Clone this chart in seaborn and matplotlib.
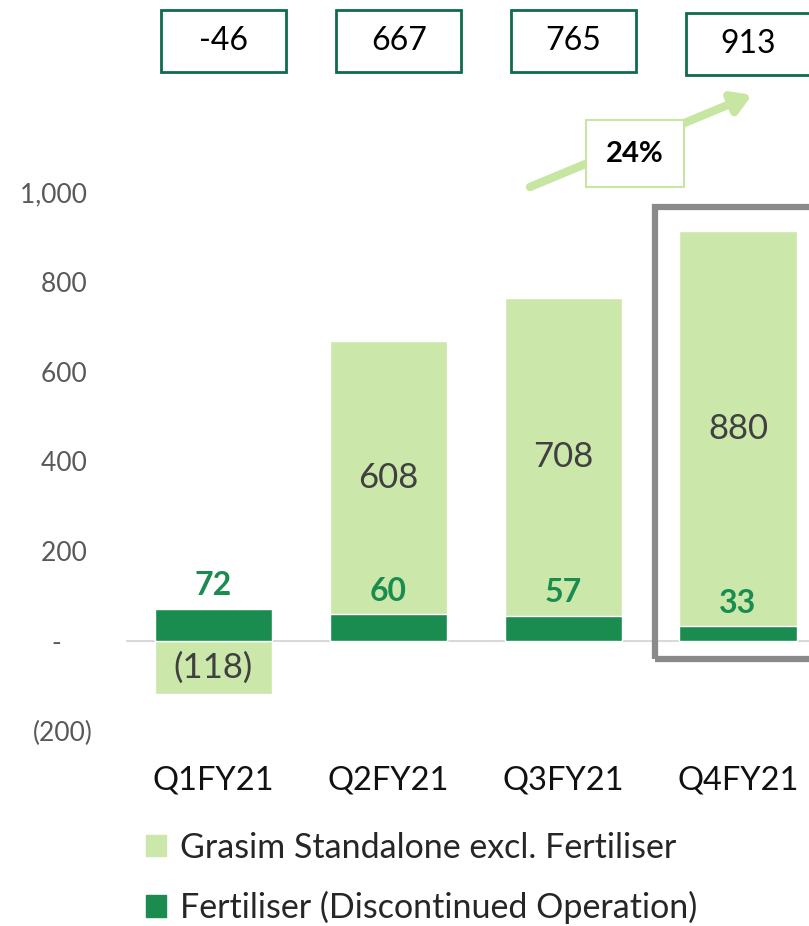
import numpy as np
import pandas as pd
import matplotlib
matplotlib.use("Agg")
import matplotlib.pyplot as plt
from matplotlib.patches import Rectangle, Patch
import seaborn as sns

quarters = ["Q1FY21", "Q2FY21", "Q3FY21", "Q4FY21"]
grasim = [-118, 608, 708, 880]
fertiliser = [72, 60, 57, 33]
totals = [-46, 667, 765, 913]
growth_label = "24%"
ytick_vals = [-200, 0, 200, 400, 600, 800, 1000]
ytick_labels = ["(200)", "-\u2007\u2007", "200\u2008", "400\u2008", "600\u2008", "800\u2008", "1,000\u2008"]

light = "#cbe7a9"
dark = "#1b8c50"
box_edge = "#0e6b4f"

sns.set_theme(style="white")
plt.rcParams["font.family"] = ["Lato", "DejaVu Sans"]

# light bar stacked on top of the dark one when positive
light_top = [g + f if g > 0 else g for g, f in zip(grasim, fertiliser)]
df = pd.DataFrame({"quarter": quarters, "light_top": light_top, "fert": fertiliser})

fig = plt.figure(figsize=(8.09, 9.26), dpi=100)
ax = fig.add_axes([0.1557, 0.2106, 0.8443, 0.5821])

sns.barplot(data=df, x="quarter", y="light_top", color=light, width=0.67,
            saturation=1, ax=ax, zorder=2)
sns.barplot(data=df, x="quarter", y="fert", color=dark, width=0.67,
            saturation=1, ax=ax, zorder=3)

ax.set_xlim(-0.5, 3.406)
ax.set_ylim(-200, 1000)
ax.axhline(0, color="#d9d9d9", lw=1.5, zorder=1)
sns.despine(ax=ax, left=True, bottom=True)
ax.set_xlabel("")
ax.set_ylabel("")
ax.set_yticks(ytick_vals)
ax.set_yticklabels(ytick_labels, fontsize=19, color="#595959")
ax.tick_params(axis="y", length=0, pad=24)
ax.tick_params(axis="x", length=0, pad=25, labelsize=23.5, labelcolor="#111111")

# segment labels
for i, (g, f) in enumerate(zip(grasim, fertiliser)):
    if g > 0:
        mid = f + g / 2
    else:
        mid = g / 2
    ax.text(i, mid, f"{g}" if g > 0 else f"({-g})", ha="center", va="center",
            fontsize=25, color="#404040", zorder=5)
    ax.annotate(str(f), (i, f), xytext=(0, 6), textcoords="offset points",
                ha="center", va="bottom", fontsize=23, fontweight="bold",
                color=dark, zorder=5)

# totals boxes above
box_y = [1336, 1336, 1336, 1329]
for i, t in enumerate(totals):
    cx = i + 0.06
    ax.add_patch(Rectangle((cx - 0.357, box_y[i] - 69), 0.714, 138, fc="white",
                           ec=box_edge, lw=2, clip_on=False, zorder=6))
    ax.text(cx, box_y[i], str(t), ha="center", va="center", fontsize=23,
            color="black", clip_on=False, zorder=7)

# growth arrow
ax.annotate("", xy=(3.08, 1216), xytext=(1.81, 1011), annotation_clip=False,
            arrowprops=dict(arrowstyle="-|>,head_length=0.9,head_width=0.55",
                            color="#c6e6a2", lw=6, shrinkA=0, shrinkB=0))
ax.text(2.41, 1085, growth_label, ha="center", va="center", fontsize=21,
        fontweight="bold", color="black", clip_on=False, zorder=6,
        bbox=dict(boxstyle="square,pad=0.7", fc="white", ec="#c6e6a2", lw=1.5))

# highlight box around Q4
ax.add_patch(Rectangle((2.526, -40), 1.2, 1007, fill=False, ec="#8a8a8a",
                       lw=4.5, clip_on=False, zorder=6))

handles = [Patch(color=light, label="Grasim Standalone excl. Fertiliser"),
           Patch(color=dark, label="Fertiliser (Discontinued Operation)")]
fig.legend(handles=handles, loc="upper left", bbox_to_anchor=(0.180, 0.102),
           bbox_transform=fig.transFigure, frameon=False, fontsize=24.5,
           handlelength=0.6, handleheight=0.6, handletextpad=0.4,
           labelspacing=0.8, borderaxespad=0, borderpad=0)

fig.savefig("out.png", dpi=100)
